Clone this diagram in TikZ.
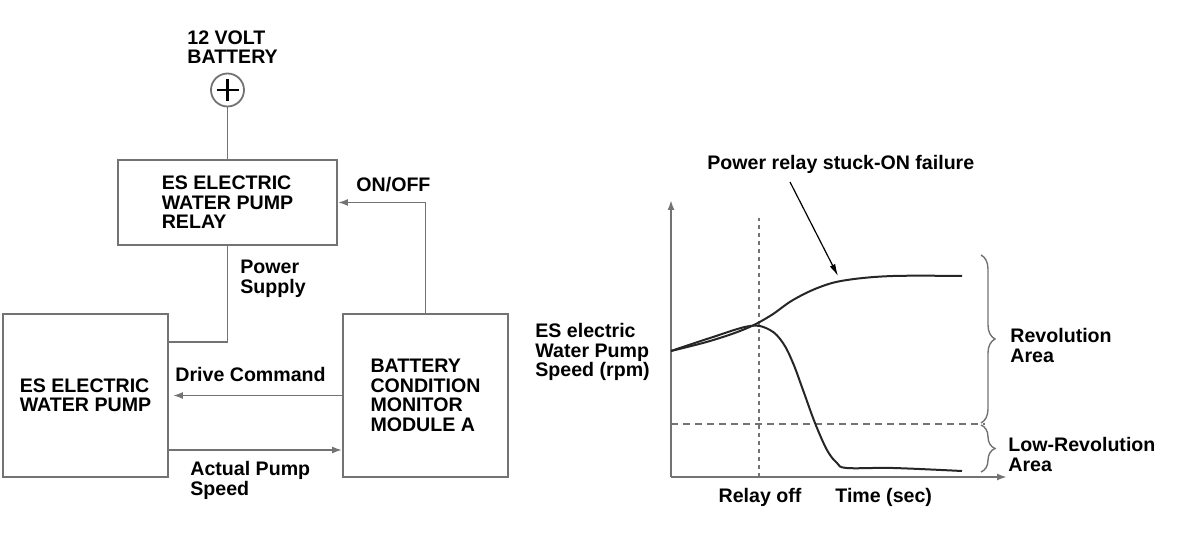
\documentclass[tikz,border=0pt]{standalone}
\usepackage{fontspec}
\setmainfont{Liberation Sans}
\usetikzlibrary{arrows.meta,decorations.pathreplacing}
\definecolor{linegray}{RGB}{115,115,115}
\tikzset{
  txt/.style={font=\fontsize{9.8pt}{9.75pt}\selectfont\bfseries, align=left, inner sep=0pt},
  box/.style={txt, draw=linegray, line width=0.9pt},
  wire/.style={draw=linegray, line width=0.9pt},
  tip/.style={-{Latex[length=5pt,width=3.5pt]}},
  curve/.style={draw=black!85, line width=1pt},
}
\begin{document}
\begin{tikzpicture}[x=0.5pt,y=0.5pt]
        \useasboundingbox (0,0) rectangle (1200,552);
        \node[txt, anchor=north west] (V) at (187,522) {12 VOLT\\BATTERY};
        \node[circle, wire, minimum size=16.5pt, inner sep=0pt] (B) at (227.5,462) {};
        \draw[line width=1.4pt] ([xshift=-5.5pt]B.center) -- ([xshift=5.5pt]B.center) ([yshift=-5.5pt]B.center) -- ([yshift=5.5pt]B.center);
        \node[box, minimum width=109.5pt, minimum height=42.5pt] (R) at (227.5,349.5) {ES ELECTRIC\\WATER PUMP\\RELAY};
        \node[box, minimum width=82.5pt, minimum height=81.5pt] (P) at (85.5,156.5) {ES ELECTRIC\\WATER PUMP};
        \node[box, minimum width=82.5pt, minimum height=81.5pt] (M) at (425.5,156.5) {BATTERY\\CONDITION\\MONITOR\\MODULE A};
        \coordinate (S) at (168,210);
        \coordinate (A) at (168,102);

        \draw[wire] (B) -- (R);
        \draw[wire, tip] (M.north) |- (R.east);
        \draw[wire] (R.south) |- (S);
        \draw[wire, tip, shorten >=2pt] (M.west) -- (P.east);
        \draw[wire, tip] (A) -- (A -| M.west);
        \node[txt, anchor=north west] (L0) at (356,375) {ON/OFF};
        \node[txt, anchor=north west] (L1) at (240,292) {Power\\Supply};
        \node[txt, anchor=north west] (L2) at (175,185) {Drive Command};
        \node[txt, anchor=north west] (L3) at (190,91) {Actual Pump\\Speed};

        \coordinate (O) at (671,75);
        \coordinate (Y) at (671,352);
        \coordinate (X) at (1007,75);
        \draw[wire, tip] (O) -- (Y);
        \draw[wire, tip] (O) -- (X);
        \draw[wire, dash pattern=on 2pt off 2pt] (759,75) -- (759,334);
        \draw[wire, dash pattern=on 3.5pt off 2.5pt] (671,128) -- (985,128);
        \draw[curve] plot[smooth, tension=0.6] coordinates {(671,201) (710,211) (745,223) (770,236) (793,252) (820,265) (847,272) (893,276) (962,276)};
        \draw[curve] plot[smooth, tension=0.6] coordinates {(671,201) (710,214) (750,226) (770,222) (783,209) (793,189) (803,162) (815,129) (827,102) (837,89) (847,84) (893,84) (962,81)};

        \node[txt, anchor=north west] (F) at (707,397) {Power relay stuck-ON failure};
        \coordinate (F1) at (790,370);
        \coordinate (F2) at (838,276);
        \draw[-{Latex[length=6pt,width=3pt]}, line width=0.6pt] (F1) -- (F2);
        \node[txt, anchor=north west] (E) at (535,229) {ES electric\\Water Pump\\Speed (rpm)};
        \node[txt, anchor=north] (T1) at (760,64) {Relay off};
        \node[txt, anchor=north west] (T2) at (835,64) {Time (sec)};

        \draw[wire, line width=0.7pt, decorate, decoration={brace, amplitude=7pt}] (981,297) -- (981,129);
        \draw[wire, line width=0.7pt, decorate, decoration={brace, amplitude=7pt}] (981,127) -- (981,80);
        \node[txt, anchor=north west] (H) at (1010,224) {Revolution\\Area};
        \node[txt, anchor=north west] (K) at (1008,115) {Low-Revolution\\Area};
      \end{tikzpicture}
\end{document}
